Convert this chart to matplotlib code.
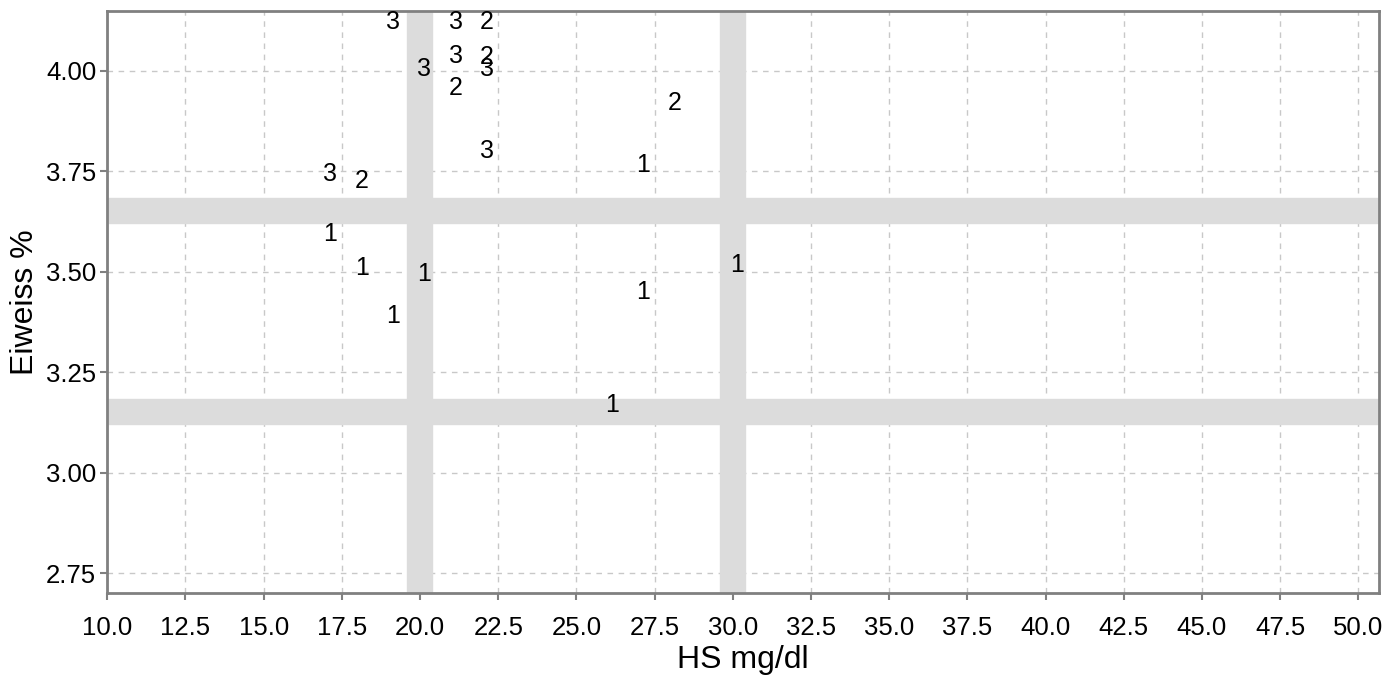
import matplotlib
matplotlib.use("Agg")
from matplotlib import pyplot as plt
from matplotlib.ticker import MultipleLocator, FormatStrFormatter

plt.rcParams['font.family'] = ['Liberation Sans', 'DejaVu Sans']

# Daten: HS mg/dl, Eiweiss %, Gruppe
hs = [17, 18, 19, 20, 27, 27, 30, 26,
      17, 18, 22, 28, 20, 21, 21, 22, 22, 19, 21, 22]
eiweiss = [3.60, 3.515, 3.395, 3.50, 3.772, 3.455, 3.522, 3.175,
           3.75, 3.732, 3.807, 3.925, 4.01, 3.962, 4.042, 4.039, 4.01, 4.126, 4.126, 4.126]
gruppe = ['1', '1', '1', '1', '1', '1', '1', '1',
          '3', '2', '3', '2', '3', '2', '3', '2', '3', '3', '3', '2']

# Grenzlinien
hs_grenzen = [20, 30]
eiweiss_grenzen = [3.65, 3.15]

fig = plt.figure(figsize=(13.99, 6.79), dpi=100)
ax = fig.add_axes([0.0767, 0.1262, 0.909, 0.8576])

for x in hs_grenzen:
    ax.axvline(x, color='#dcdcdc', linewidth=19, zorder=1)
for y in eiweiss_grenzen:
    ax.axhline(y, color='#dcdcdc', linewidth=19, zorder=1)

for x, y, g in zip(hs, eiweiss, gruppe):
    ax.annotate(g, (x, y), xytext=(3, 0), textcoords='offset points',
                ha='center', va='center_baseline', fontsize=18, color='black', zorder=3)

ax.set_xlim(10, 50.66)
ax.set_ylim(2.70, 4.148)
ax.xaxis.set_major_locator(MultipleLocator(2.5))
ax.yaxis.set_major_locator(MultipleLocator(0.25))
ax.xaxis.set_major_formatter(FormatStrFormatter('%.1f'))
ax.yaxis.set_major_formatter(FormatStrFormatter('%.2f'))

ax.grid(True, linestyle=(0, (4, 4)), color='#c8c8c8', linewidth=1)
ax.set_axisbelow(True)

for s in ax.spines.values():
    s.set_color('#808080')
    s.set_linewidth(2)
ax.tick_params(colors='#808080', labelcolor='black', labelsize=18.5, length=5, width=1.5)
ax.tick_params(axis='x', pad=11)
ax.tick_params(axis='y', pad=3)

ax.set_xlabel('HS mg/dl', fontsize=23, labelpad=4)
ax.set_ylabel('Eiweiss %', fontsize=23, labelpad=4)

plt.savefig('out.png', dpi=100)
